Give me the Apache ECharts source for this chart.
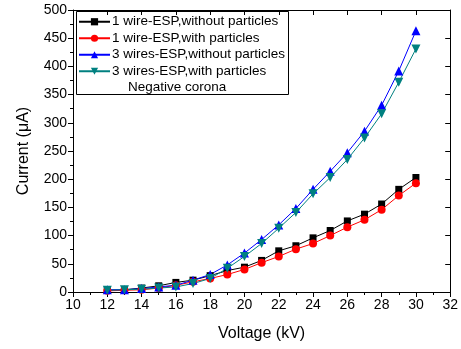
<!DOCTYPE html>
<html>
<head>
<meta charset="utf-8">
<script src="https://cdn.jsdelivr.net/npm/echarts@6/dist/echarts.min.js"></script>
<style>
  html, body { margin: 0; padding: 0; background: #fff; }
  #chart { width: 461px; height: 349px; }
</style>
</head>
<body>
<div id="chart"></div>
<script>
const voltage = [12, 13, 14, 15, 16, 17, 18, 19, 20, 21, 22, 23, 24, 25, 26, 27, 28, 29, 30];
const oneWireNoParticles = [3, 4, 7, 11, 17, 21, 29, 38, 44, 56, 73, 82, 96, 109, 126, 138, 156, 182, 203];
const oneWireParticles = [2, 3, 4, 7, 12, 18, 24, 31, 40, 52, 63, 76, 86, 100, 115, 128, 146, 171, 193];
const threeWiresNoParticles = [4, 4, 6, 9, 12, 21, 31, 48, 69, 93, 119, 148, 182, 214, 247, 285, 331, 392, 463];
const threeWiresParticles = [3, 4, 5, 7, 9, 15, 24, 42, 63, 86, 113, 141, 174, 203, 235, 273, 316, 372, 431];
const seriesNames = [
  "1 wire-ESP,without particles",
  "1 wire-ESP,with particles",
  "3 wires-ESP,without particles",
  "3 wires-ESP,with particles"
];

const font = "Liberation Sans, Arial, sans-serif";
const pair = (ys) => voltage.map((v, i) => [v, ys[i]]);

const chart = echarts.init(document.getElementById("chart"));

const lineSeries = (name, data, color, symbol, size, rotate) => ({
  name,
  type: "line",
  data: pair(data),
  symbol,
  symbolSize: size,
  symbolRotate: rotate || 0,
  symbolKeepAspect: true,
  showAllSymbol: true,
  lineStyle: { color, width: 1 },
  itemStyle: { color },
  z: 3
});

const axisBase = {
  axisLine: { show: true, onZero: false, lineStyle: { color: "#000", width: 1 } },
  splitLine: { show: false }
};

chart.setOption({
  animation: false,
  grid: { left: 73, right: 8, top: 10, bottom: 57 },
  legend: {
    orient: "vertical",
    left: 78,
    top: 14,
    padding: 0,
    itemGap: 1,
    itemWidth: 31,
    itemHeight: 9,
    textStyle: { fontFamily: font, fontSize: 13.5, lineHeight: 15.5, color: "#000", padding: [0, 0, 0, -3] },
    data: seriesNames
  },
  graphic: [
    {
      type: "rect",
      shape: { x: 76.5, y: 11.5, width: 212, height: 83 },
      style: { fill: "none", stroke: "#000", lineWidth: 1 },
      z: 10
    },
    {
      type: "text",
      left: 128,
      top: 80,
      style: { text: "Negative corona", font: "13.5px " + font, fill: "#000" },
      z: 10
    }
  ],
  xAxis: [
    Object.assign({}, axisBase, {
      type: "value",
      min: 10,
      max: 32,
      interval: 2,
      position: "bottom",
      name: "Voltage (kV)",
      nameLocation: "middle",
      nameGap: 34,
      nameTextStyle: { fontFamily: font, fontSize: 16, color: "#000" },
      axisTick: { show: true, inside: false, length: 5, lineStyle: { color: "#000" } },
      minorTick: { show: true, splitNumber: 2, length: 3, lineStyle: { color: "#000" } },
      axisLabel: { fontFamily: font, fontSize: 14, color: "#000", margin: 6 }
    }),
    Object.assign({}, axisBase, {
      type: "value",
      min: 10,
      max: 32,
      interval: 2,
      position: "top",
      axisTick: { show: true, inside: true, length: 5, lineStyle: { color: "#000" } },
      axisLabel: { show: false }
    })
  ],
  yAxis: [
    Object.assign({}, axisBase, {
      type: "value",
      min: 0,
      max: 500,
      interval: 50,
      position: "left",
      name: "Current (\u03bcA)",
      nameLocation: "middle",
      nameGap: 41,
      nameTextStyle: { fontFamily: font, fontSize: 16, color: "#000" },
      axisTick: { show: true, inside: false, length: 5, lineStyle: { color: "#000" } },
      minorTick: { show: true, splitNumber: 2, length: 3, lineStyle: { color: "#000" } },
      axisLabel: { fontFamily: font, fontSize: 14, color: "#000", margin: 6 }
    }),
    Object.assign({}, axisBase, {
      type: "value",
      min: 0,
      max: 500,
      interval: 50,
      position: "right",
      axisTick: { show: true, inside: true, length: 5, lineStyle: { color: "#000" } },
      axisLabel: { show: false }
    })
  ],
  series: [
    lineSeries(seriesNames[0], oneWireNoParticles, "#000000", "rect", 7),
    lineSeries(seriesNames[1], oneWireParticles, "#ff0000", "circle", 8),
    lineSeries(seriesNames[2], threeWiresNoParticles, "#0000ff", "triangle", 9),
    lineSeries(seriesNames[3], threeWiresParticles, "#008080", "triangle", 9, 180)
  ]
});
</script>
</body>
</html>
